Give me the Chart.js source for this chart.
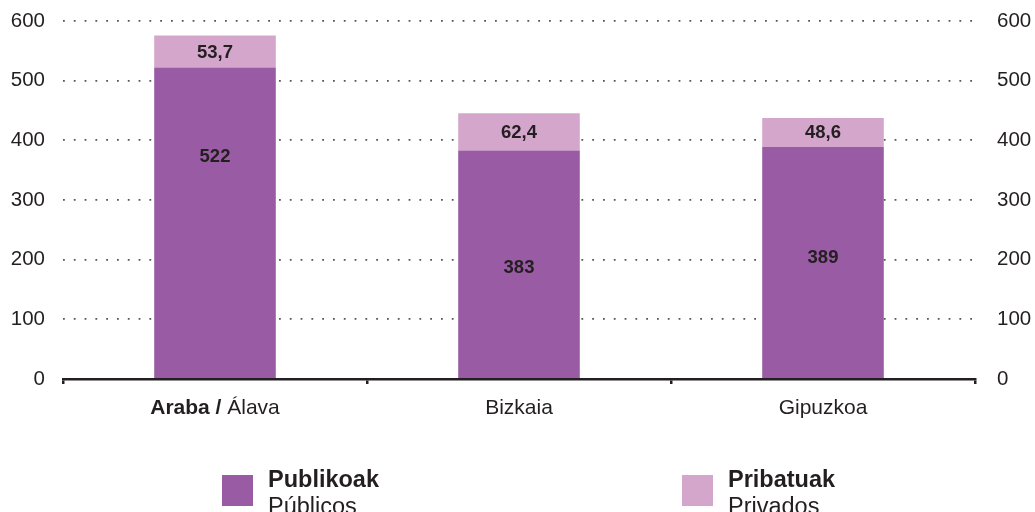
<!DOCTYPE html>
<html>
<head>
<meta charset="utf-8">
<script src="https://cdn.jsdelivr.net/npm/chart.js@4"></script>
<style>
  body { margin: 0; background: #fff; font-family: "Liberation Sans", Arial, Helvetica, sans-serif; color: #231f20; }
  #wrap { position: relative; width: 1035px; height: 512px; overflow: hidden; }
  .leg { position: absolute; top: 466px; font-size: 23.5px; line-height: 27px; }
  .leg .sw { position: absolute; left: 0; top: 9px; width: 31px; height: 31px; }
  .leg .txt { position: absolute; left: 46px; top: 0; white-space: nowrap; }
  .leg b { font-weight: bold; }
</style>
</head>
<body>
<div id="wrap">
  <canvas id="chart" width="1035" height="512"></canvas>
  <div class="leg" style="left:222px">
    <div class="sw" style="background:#9a5ba5"></div>
    <div class="txt"><b>Publikoak</b><br>Públicos</div>
  </div>
  <div class="leg" style="left:682px">
    <div class="sw" style="background:#d4a6cc"></div>
    <div class="txt"><b>Pribatuak</b><br>Privados</div>
  </div>
</div>
<script>
// data
const regionsBold = ['Araba /', '', ''];
const regionsPlain = ['Álava', 'Bizkaia', 'Gipuzkoa'];
const publicValues = [522, 383, 389];
const privateValues = [53.7, 62.4, 48.6];
const yTicks = [0, 100, 200, 300, 400, 500, 600];

const FONT = '"Liberation Sans", Arial, Helvetica, sans-serif';
const INK = '#231f20';

const fmt = v => String(v).replace('.', ',');

// value labels inside the bars
const valueLabels = {
  id: 'valueLabels',
  afterDatasetsDraw(chart, args, opts) {
    const c = chart.ctx;
    const y = chart.scales.y;
    c.save();
    c.font = 'bold 18.5px ' + FONT;
    c.fillStyle = INK;
    c.textAlign = 'center';
    c.textBaseline = 'middle';
    chart.data.datasets.forEach((ds, di) => {
      chart.getDatasetMeta(di).data.forEach((bar, i) => {
        let ty = (bar.y + bar.base) / 2;
        if (di === 0 && opts.publicAt) ty = y.getPixelForValue(opts.publicAt[i]);
        c.fillText(fmt(ds.data[i]), bar.x, ty + 1);
      });
    });
    c.restore();
  }
};

// category labels, with bold part
const catLabels = {
  id: 'catLabels',
  afterDraw(chart) {
    const c = chart.ctx;
    const x = chart.scales.x;
    c.save();
    c.fillStyle = INK;
    c.textBaseline = 'middle';
    c.textAlign = 'left';
    regionsPlain.forEach((plain, i) => {
      const bold = regionsBold[i] ? regionsBold[i] + ' ' : '';
      c.font = 'bold 21px ' + FONT;
      const wb = c.measureText(bold).width;
      c.font = '21px ' + FONT;
      const wp = c.measureText(plain).width;
      let cx = x.getPixelForValue(i) - (wb + wp) / 2;
      const cy = 408;
      if (bold) {
        c.font = 'bold 21px ' + FONT;
        c.fillText(bold, cx, cy);
      }
      c.font = '21px ' + FONT;
      c.fillText(plain, cx + wb, cy);
    });
    c.restore();
  }
};

const yFit = w => s => { s.width = w; s.paddingTop = 0; s.paddingBottom = 0; };

const chart = new Chart(document.getElementById('chart'), {
  type: 'bar',
  data: {
    labels: regionsPlain,
    datasets: [
      {
        label: 'Publikoak',
        data: publicValues,
        backgroundColor: '#9a5ba5',
        barPercentage: 0.4,
        categoryPercentage: 1
      },
      {
        label: 'Pribatuak',
        data: privateValues,
        backgroundColor: '#d4a6cc',
        barPercentage: 0.4,
        categoryPercentage: 1
      }
    ]
  },
  options: {
    responsive: false,
    animation: false,
    layout: { padding: { top: 21, bottom: 0, left: 0, right: 0 } },
    plugins: {
      legend: { display: false },
      tooltip: { enabled: false },
      valueLabels: { publicAt: [374, 188, 204] }
    },
    scales: {
      x: {
        stacked: true,
        offset: true,
        grid: {
          offset: true,
          drawOnChartArea: false,
          drawTicks: true,
          tickLength: 5,
          color: INK,
          lineWidth: 2.5
        },
        border: { display: true, color: INK, width: 2.5 },
        ticks: { display: false },
        afterFit(s) { s.height = 133; s.paddingLeft = 0; s.paddingRight = 0; }
      },
      y: {
        stacked: true,
        position: 'left',
        min: 0,
        max: 600,
        afterBuildTicks(s) { s.ticks = yTicks.map(v => ({ value: v })); },
        grid: {
          drawTicks: false,
          color: ctx => ctx.tick && ctx.tick.value === 0 ? 'rgba(0,0,0,0)' : '#555555',
          lineWidth: 1.8
        },
        border: { display: false, dash: [1.8, 9] },
        ticks: {
          padding: 18,
          color: INK,
          font: { family: FONT, size: 20.5 }
        },
        afterFit: yFit(63)
      },
      y2: {
        position: 'right',
        min: 0,
        max: 600,
        afterBuildTicks(s) { s.ticks = yTicks.map(v => ({ value: v })); },
        grid: { display: false, drawTicks: false },
        border: { display: false },
        ticks: {
          padding: 22,
          color: INK,
          font: { family: FONT, size: 20.5 }
        },
        afterFit: yFit(60)
      }
    }
  },
  plugins: [valueLabels, catLabels]
});
</script>
</body>
</html>
